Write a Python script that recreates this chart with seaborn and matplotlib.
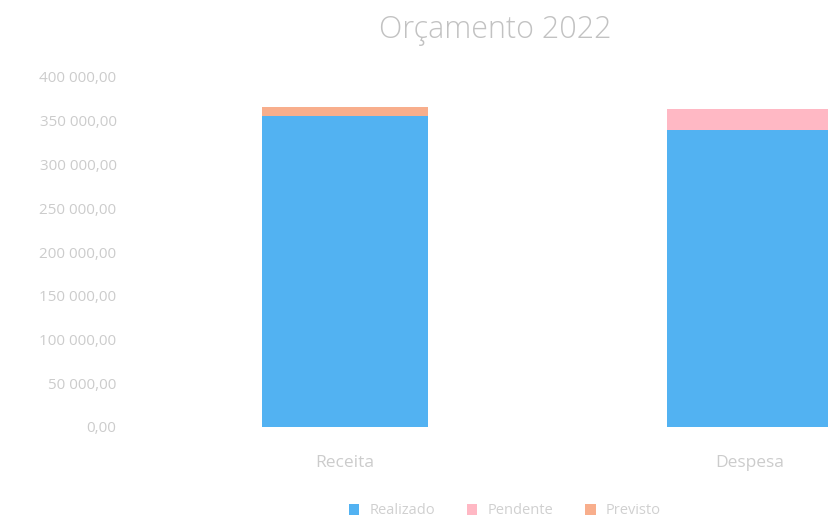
import matplotlib
matplotlib.use("Agg")
import matplotlib.pyplot as plt
from matplotlib.patches import Patch
import seaborn as sns
import pandas as pd
import numpy as np

categories = ["Receita", "Despesa"]
series_names = ["Realizado", "Pendente", "Previsto"]
realizado = [355000, 339000]
pendente = [0, 25000]
previsto = [11000, 0]
colors = ["#52B2F2", "#FFB8C4", "#F8AE8C"]
yticks = np.arange(0, 400001, 50000)

sns.set_theme(style="white")
plt.rcParams["font.family"] = ["Open Sans", "DejaVu Sans"]

fig = plt.figure(figsize=(8.29, 5.22), dpi=100)
# the axes run past the right edge, as in the cropped original
ax = fig.add_axes([143 / 829, 95 / 522, 809 / 829, 350 / 522])

vals = np.array([realizado, pendente, previsto])
cum = np.cumsum(vals, axis=0)
# draw stacks from the top down so lower segments cover the upper totals
for i in range(len(series_names) - 1, -1, -1):
    df = pd.DataFrame({"cat": categories, "v": cum[i]})
    sns.barplot(data=df, x="cat", y="v", color=colors[i], width=0.41,
                saturation=1, ax=ax, edgecolor="none")

ax.set_ylim(0, 400000)
ax.set_yticks(yticks)
ax.set_yticklabels([f"{v:,.2f}".replace(",", " ").replace(".", ",") for v in yticks])
ax.set_xlabel("")
ax.set_ylabel("")
ax.tick_params(axis="y", colors="#cccccc", labelsize=11, length=0, pad=19)
ax.tick_params(axis="x", colors="#cccccc", labelsize=12.5, length=0, pad=20)
for s in ax.spines.values():
    s.set_visible(False)
ax.grid(False)

fig.text(495 / 829, 1 - 30 / 522, "Orçamento 2022", ha="center", va="center",
         fontsize=22, color="#c2c2c2", fontweight="light")

handles = [Patch(facecolor=c, edgecolor="none") for c in colors]
fig.legend(handles, series_names, loc="center", bbox_to_anchor=(505 / 829, 1 - 511 / 522),
           ncol=3, frameon=False, fontsize=10.5, labelcolor="#d0d0d0",
           handlelength=0.7, handleheight=0.7, columnspacing=2.2, handletextpad=0.7)

fig.savefig("out.png", dpi=100)
